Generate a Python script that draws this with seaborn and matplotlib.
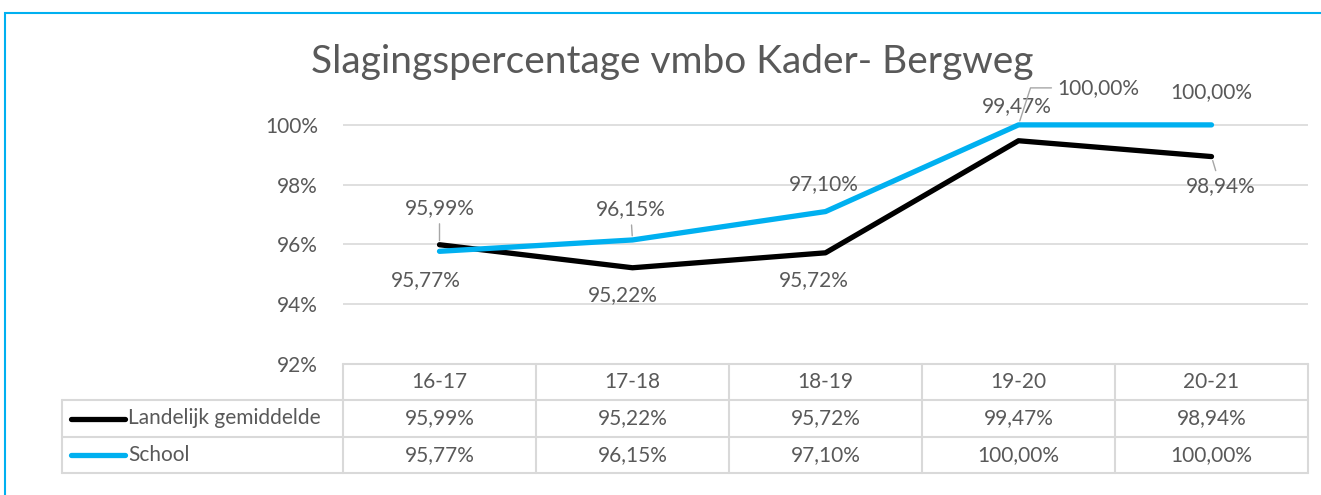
import matplotlib
matplotlib.use("Agg")
import pandas as pd
from matplotlib import pyplot as plt
from matplotlib.patches import Rectangle
import seaborn as sns

# data uit de grafiek
jaren = ["16-17", "17-18", "18-19", "19-20", "20-21"]
landelijk = [95.99, 95.22, 95.72, 99.47, 98.94]
school = [95.77, 96.15, 97.10, 100.00, 100.00]
reeksen = ["Landelijk gemiddelde", "School"]
kleuren = ["#000000", "#00B0F0"]
titel = "Slagingspercentage vmbo Kader- Bergweg"

sns.set_style("white")
plt.rcParams['font.family'] = ['Lato', 'DejaVu Sans']
grijs = "#595959"
lijngrijs = "#D9D9D9"
fs = 15

df = pd.DataFrame({
    "jaar": jaren * 2,
    "pct": landelijk + school,
    "reeks": [reeksen[0]] * len(jaren) + [reeksen[1]] * len(jaren),
})

def fmt(v):
    return f"{v:.2f}%".replace(".", ",")

W, H = 1321, 495
fig = plt.figure(figsize=(W / 100, H / 100), dpi=100)

def box(x0, y0, x1, y1):
    # pixels (links-boven) -> figuur fracties
    return [x0 / W, 1 - y1 / H, (x1 - x0) / W, (y1 - y0) / H]

ax = fig.add_axes(box(343, 95, 1308, 364))
sns.lineplot(data=df, x="jaar", y="pct", hue="reeks", palette=kleuren,
             lw=3.8, ax=ax, legend=False, sort=False, solid_capstyle="round")
ax.set_xlim(-0.5, 4.5)
ax.set_ylim(92, 101)
ax.set_yticks([92, 94, 96, 98, 100])
ax.set_yticklabels([f"{t}%" for t in [92, 94, 96, 98, 100]])
ax.set_xticks([])
ax.set_xlabel("")
ax.set_ylabel("")
ax.yaxis.grid(True, color=lijngrijs, lw=1.2)
ax.set_axisbelow(True)
ax.tick_params(axis="y", length=0, pad=18, labelsize=fs, labelcolor=grijs)
sns.despine(ax=ax, left=True, bottom=True)

# data labels (offset in pixels)
offsets_l = [(0, 37), (-10, -27), (-12, -27), (-2, 35), (9, -30)]
offsets_s = [(-14, -29), (-2, 31), (-2, 27), (80, 37), (0, 33)]
leader = {("l", 0): "arc3", ("l", 4): "arc3", ("s", 1): "arc3",
          ("s", 3): "angle,angleA=180,angleB=72,rad=0"}

for key, vals, offs in [("l", landelijk, offsets_l), ("s", school, offsets_s)]:
    for i, (v, o) in enumerate(zip(vals, offs)):
        arrow = None
        if (key, i) in leader:
            arrow = dict(arrowstyle="-", color="#A6A6A6", lw=1,
                         shrinkA=2, shrinkB=3, connectionstyle=leader[(key, i)])
        ax.annotate(fmt(v), (i, v), xytext=o, textcoords="offset pixels",
                    ha="center", va="center", fontsize=fs, color=grijs,
                    arrowprops=arrow)

# titel
fig.text(672 / W, 1 - 62 / H, titel, ha="center", va="center",
         fontsize=28, color=grijs)

# gegevenstabel
tab = fig.add_axes(box(62, 364, 1308, 473))
xl = -0.5 - 281 / 193
tab.set_xlim(xl, 4.5)
tab.set_ylim(3, 0)
tab.axis("off")
kw = dict(color=lijngrijs, lw=1.5, clip_on=False)
tab.plot([-0.5, 4.5], [0, 0], **kw)
for yy in [1, 2, 3]:
    tab.plot([xl, 4.5], [yy, yy], **kw)
tab.plot([xl, xl], [1, 3], **kw)
for k in range(6):
    tab.plot([k - 0.5, k - 0.5], [0, 3], **kw)

for i, j in enumerate(jaren):
    tab.text(i, 0.5, j, ha="center", va="center", fontsize=fs, color=grijs)
    tab.text(i, 1.5, fmt(landelijk[i]), ha="center", va="center", fontsize=fs, color=grijs)
    tab.text(i, 2.5, fmt(school[i]), ha="center", va="center", fontsize=fs, color=grijs)

for r, (naam, kl) in enumerate(zip(reeksen, kleuren)):
    y = 1.5 + r
    tab.plot([xl + 9 / 193, xl + 63 / 193], [y, y], color=kl, lw=3.8,
             solid_capstyle="round", clip_on=False)
    tab.text(xl + 66 / 193, y, naam, ha="left", va="center", fontsize=fs, color=grijs)

# rand om de hele grafiek
fig.add_artist(Rectangle((5 / W, -0.1), 1.2, 1 - 13 / H + 0.1,
                         transform=fig.transFigure, fill=False,
                         ec="#00B0F0", lw=1.5))

fig.savefig("out.png", dpi=100)
